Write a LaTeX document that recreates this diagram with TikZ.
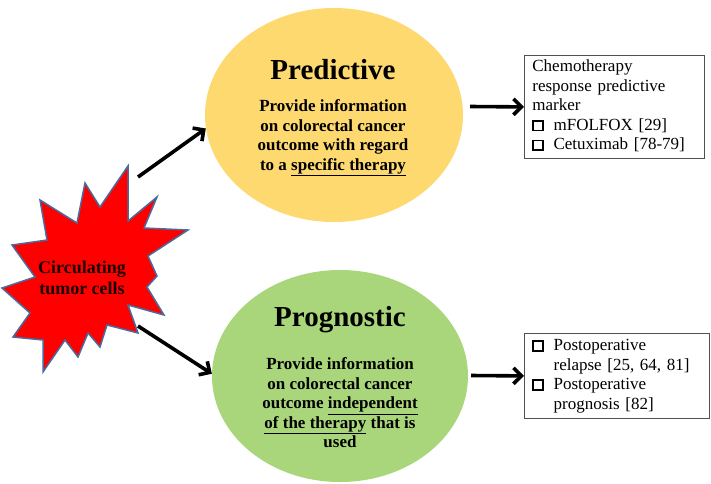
\documentclass[tikz,border=0pt]{standalone}
\usepackage{fontspec}
\setmainfont{Liberation Serif}
\usetikzlibrary{shapes.geometric,arrows.meta}
\definecolor{predY}{RGB}{253,217,112}
\definecolor{progG}{RGB}{169,214,122}
\definecolor{starEdge}{RGB}{72,108,158}
\definecolor{boxEdge}{RGB}{80,80,80}
\newcommand\chkbox{\raisebox{0.6pt}{\setlength\fboxrule{1.6pt}\setlength\fboxsep{0pt}\fbox{\rule{0pt}{8pt}\rule{8pt}{0pt}}}}
\tikzset{
  bubble/.style={ellipse, inner sep=0pt, minimum width=258pt, minimum height=214pt, draw=none},
  titletext/.style={font=\fontsize{29}{32}\selectfont\bfseries, inner sep=0pt},
  bodytext/.style={font=\fontsize{17}{19.5}\selectfont\bfseries, align=center, inner sep=0pt},
  infobox/.style={draw=boxEdge, line width=0.8pt, align=left, anchor=north west, inner xsep=8pt, inner ysep=0pt, font=\fontsize{17}{19.5}\selectfont},
  arr/.style={line width=3.6pt, -{Straight Barb[length=8pt,width=16pt]}},
}
\begin{document}
\begin{tikzpicture}[x=1pt,y=-1pt]
\useasboundingbox (0,0) rectangle (711,483);
% star
\draw[fill=red, draw=starEdge, line width=1.5pt, line join=miter]
 (128,166) -- (128,221) -- (157,197) -- (144,228) -- (188,230) -- (148,256)
 -- (157,276) -- (147,287) -- (164,315) -- (128,305) -- (138,333) -- (107,325)
 -- (100,347) -- (88,333) -- (78,357) -- (65,340) -- (43,372) -- (43,340)
 -- (13,337) -- (30,313) -- (2,288) -- (35,277) -- (12,245) -- (47,240)
 -- (40,200) -- (77,223) -- (85,183) -- (100,207) -- cycle;
\node[bodytext, font=\fontsize{18}{21}\selectfont\bfseries, text=black!90!red] (ctc) at (82,278) {Circulating\\tumor cells};
% ellipses
\node[bubble, fill=predY] (pred) at (334,115) {};
\node[bubble, fill=progG, minimum width=256pt, minimum height=212pt] (prog) at (340,376) {};
\node[titletext] (predT) at (333,70) {Predictive};
\node[bodytext] (predB) at (333,138) {Provide information\\on colorectal cancer\\outcome with regard\\to a \underline{specific therapy}};
\node[titletext] (progT) at (340,320) {Prognostic};
\node[bodytext] (progB) at (340,403) {Provide information\\on colorectal cancer\\outcome \underline{independent}\\\underline{of the therapy} that is\\used};
% boxes
\node[infobox, text width=164pt, minimum height=103pt] (box1) at (524,55) {%
\begin{tabular}{@{}l@{\hspace{10pt}}l@{}}
\multicolumn{2}{@{}l@{}}{Chemotherapy}\\
\multicolumn{2}{@{}l@{}}{response predictive}\\
\multicolumn{2}{@{}l@{}}{marker}\\
\chkbox & mFOLFOX [29]\\
\chkbox & Cetuximab [78-79]
\end{tabular}};
\node[infobox, text width=169pt, minimum height=85pt] (box2) at (524,333) {%
\begin{tabular}{@{}l@{\hspace{10pt}}l@{}}
\chkbox & Postoperative\\
 & relapse [25, 64, 81]\\
\chkbox & Postoperative\\
 & prognosis [82]
\end{tabular}};
% arrows
\coordinate (s1) at (138,177);
\coordinate (s2) at (138,326);
\coordinate (s3) at (470,106.5);
\coordinate (s4) at (471,375.5);
\draw[arr] (s1) -- (pred.186);
\draw[arr] (s2) -- (prog.179);
\draw[arr] (s3) -- (box1.west);
\draw[arr] (s4) -- (box2.west);
\end{tikzpicture}
\end{document}
